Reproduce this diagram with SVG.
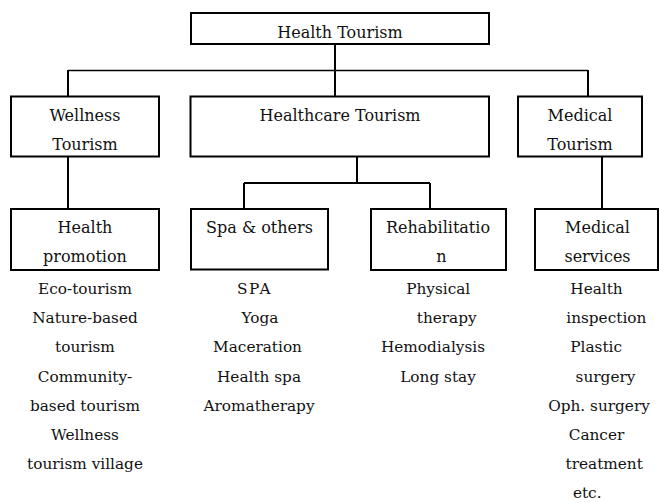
<svg xmlns="http://www.w3.org/2000/svg" width="659" height="503" viewBox="0 0 659 503">
<style>
.box{fill:#fff;stroke:#000;stroke-width:2}
text{fill:#111;text-anchor:middle;font-family:'DejaVu Serif',serif}
.lbl{font-size:16px}
.lst{font-size:15.3px}
.ln{fill:none;stroke:#000;stroke-width:2}
</style>
<rect width="659" height="503" fill="#fff"/>
<g id="connectors">
<path class="ln" d="M335,44 V96"/>
<path class="ln" style="stroke-width:1.6" d="M68,70.5 H588"/>
<path class="ln" d="M68,70 V96 M588,70 V96"/>
<path class="ln" d="M68,157 V209"/>
<path class="ln" d="M357,157 V183 M244,183 H430 M244,183 V209 M430,183 V209"/>
<path class="ln" d="M602,157 V209"/>
</g>
<g id="health-tourism">
<rect class="box" x="191" y="13" width="298" height="31"/>
<text class="lbl" x="340" y="38">Health Tourism</text>
</g>
<g id="wellness-tourism">
<rect class="box" x="11" y="96.5" width="148" height="60"/>
<text class="lbl" x="85" y="120.5">Wellness</text>
<text class="lbl" x="85" y="150">Tourism</text>
</g>
<g id="healthcare-tourism">
<rect class="box" x="190.5" y="96.5" width="298.5" height="60"/>
<text class="lbl" x="340" y="120.5">Healthcare Tourism</text>
</g>
<g id="medical-tourism">
<rect class="box" x="518" y="96.5" width="124" height="60"/>
<text class="lbl" x="580" y="120.5">Medical</text>
<text class="lbl" x="580" y="150">Tourism</text>
</g>
<g id="health-promotion">
<rect class="box" x="11" y="209" width="148" height="61"/>
<text class="lbl" x="85" y="232.5">Health</text>
<text class="lbl" x="85" y="261.5">promotion</text>
<text class="lst" x="85" y="294">Eco-tourism</text>
<text class="lst" x="85" y="323.2">Nature-based</text>
<text class="lst" x="85" y="352.4">tourism</text>
<text class="lst" x="85" y="381.6">Community-</text>
<text class="lst" x="85" y="410.8">based tourism</text>
<text class="lst" x="85" y="440">Wellness</text>
<text class="lst" x="85" y="469.2">tourism village</text>
</g>
<g id="spa-others">
<rect class="box" x="191" y="209" width="137" height="60.5"/>
<text class="lbl" x="259.5" y="233">Spa &amp; others</text>
<text class="lst" x="254.5" y="294" letter-spacing="1.5">SPA</text>
<text class="lst" x="260" y="323.2">Yoga</text>
<text class="lst" x="257.5" y="352.4">Maceration</text>
<text class="lst" x="259" y="381.6">Health spa</text>
<text class="lst" x="259" y="410.8">Aromatherapy</text>
</g>
<g id="rehabilitation">
<rect class="box" x="371" y="209" width="135" height="61"/>
<text class="lbl" x="438" y="232.5">Rehabilitatio</text>
<text class="lbl" x="441.5" y="261.5">n</text>
<text class="lst" x="438.2" y="294">Physical</text>
<text class="lst" x="446.7" y="323.2">therapy</text>
<text class="lst" x="433" y="352.4">Hemodialysis</text>
<text class="lst" x="438" y="381.6">Long stay</text>
</g>
<g id="medical-services">
<rect class="box" x="535" y="209" width="123" height="61"/>
<text class="lbl" x="597.5" y="232.5">Medical</text>
<text class="lbl" x="597.5" y="261.5">services</text>
<text class="lst" x="596.5" y="294">Health</text>
<text class="lst" x="606.3" y="323.2">inspection</text>
<text class="lst" x="596.2" y="352.4">Plastic</text>
<text class="lst" x="605.5" y="381.6">surgery</text>
<text class="lst" x="599" y="410.8">Oph. surgery</text>
<text class="lst" x="596.5" y="440">Cancer</text>
<text class="lst" x="604.2" y="469.2">treatment</text>
<text class="lst" x="587.2" y="498.4">etc.</text>
</g>
</svg>
